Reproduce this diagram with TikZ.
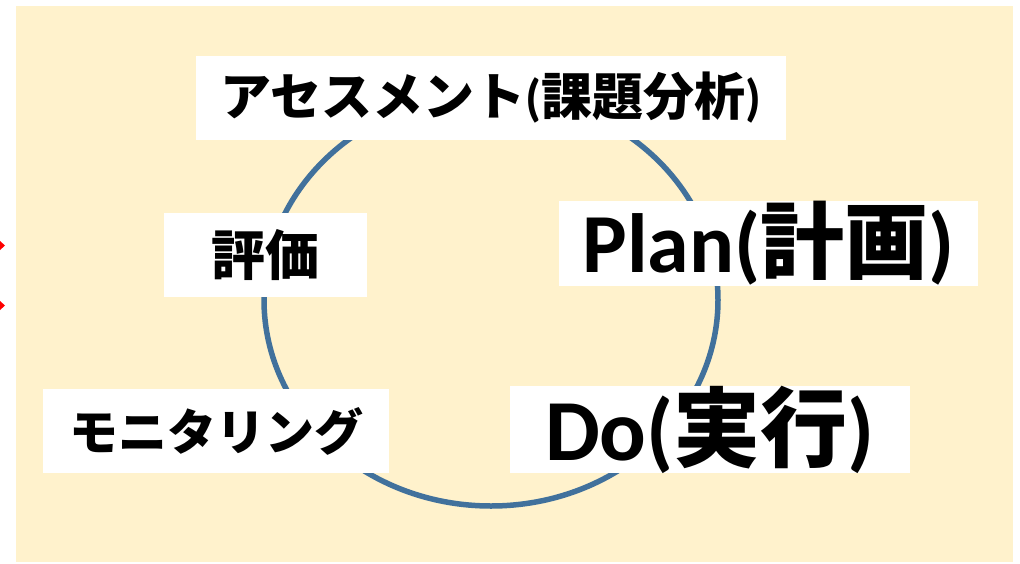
\documentclass[tikz,border=0pt]{standalone}
\usepackage{fontspec}
\usetikzlibrary{shapes.geometric}
\newfontfamily\jp{Noto Sans CJK JP}
\newfontfamily\lat{Carlito}
\definecolor{cream}{RGB}{255,242,204}
\definecolor{ringblue}{RGB}{65,113,156}
\tikzset{
  labelbox/.style={fill=white, draw=none, inner sep=0pt, anchor=center, text=black},
  ring/.style={draw=ringblue, line width=5.5pt},
  redtip/.style={fill=red, draw=none}
}
\begin{document}
\begin{tikzpicture}[x=1pt,y=-1pt]
\useasboundingbox (0,0) rectangle (1020,563);
\fill[cream] (16,6) rectangle (1013,562);
% red partial marks at the left edge
\fill[redtip] (0,241) -- (5,245.5) -- (0,250) -- cycle;
\fill[redtip] (0,301) -- (5,305.5) -- (0,310) -- cycle;
% cycle ring
\node[ring, ellipse, minimum width=454pt, minimum height=412pt, inner sep=0pt] (ringnode) at (491,300) {};
% labels
\node[labelbox, minimum width=590pt, minimum height=84pt] (assess) at (491,98)
  {\bfseries\fontsize{51}{51}\selectfont{\jp アセスメント}{\lat (}{\jp 課題分析}{\lat )}};
\node[labelbox, minimum width=203pt, minimum height=84pt] (hyoka) at (265.5,255)
  {\bfseries\fontsize{54}{54}\selectfont\jp 評価};
\node[labelbox, minimum width=419pt, minimum height=85pt] (plan) at (768.5,243.5)
  {\bfseries\fontsize{84}{84}\selectfont{\lat Plan(}{\jp 計画}{\lat )}};
\node[labelbox, minimum width=346pt, minimum height=84pt] (monitor) at (216,431)
  {\bfseries\fontsize{49}{49}\selectfont\jp モニタリング};
\node[labelbox, minimum width=400pt, minimum height=85pt] (do) at (710,429.5)
  {\bfseries\fontsize{87}{87}\selectfont{\lat Do(}{\jp 実行}{\lat )}};
\end{tikzpicture}
\end{document}
